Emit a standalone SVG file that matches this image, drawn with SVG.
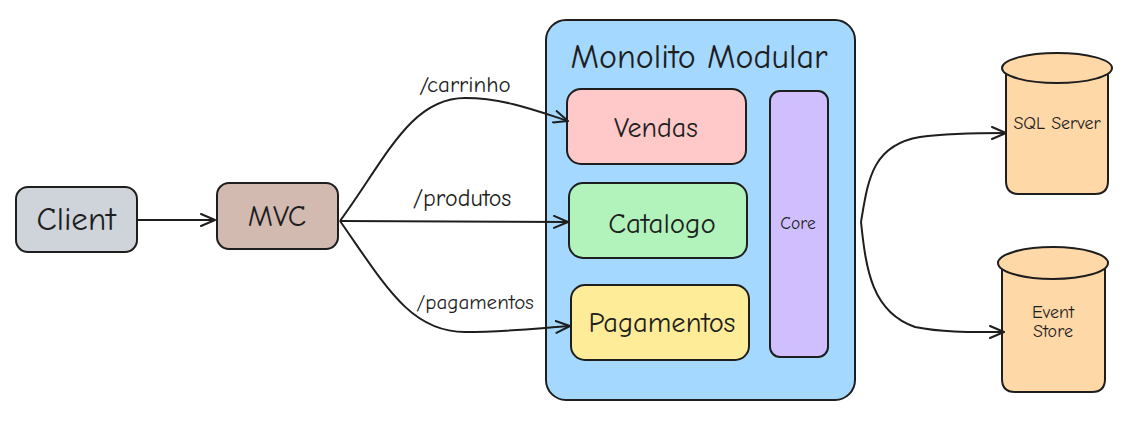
<svg xmlns="http://www.w3.org/2000/svg" width="1135" height="421" viewBox="0 0 1135 421">
<defs>
<marker id="arr" viewBox="0 0 16 14" refX="15" refY="7" markerWidth="16" markerHeight="14" markerUnits="userSpaceOnUse" orient="auto">
<path d="M1,1 L15,7 L1,13" fill="none" stroke="#1e1e1e" stroke-width="2" stroke-linecap="round" stroke-linejoin="round"/>
</marker>
</defs>
<style>
.box{stroke:#1e1e1e;stroke-width:2}
.t{font-family:"Comic Neue","Liberation Sans","DejaVu Sans",sans-serif;fill:#1e1e1e;text-anchor:middle;dominant-baseline:central}
.e{fill:none;stroke:#1e1e1e;stroke-width:2;marker-end:url(#arr)}
</style>
<rect width="1135" height="421" fill="#ffffff"/>
<g id="client">
<rect class="box" x="16" y="187" width="121" height="65" rx="12" fill="#ced4da"/>
<text class="t" x="76" y="219" font-size="33">Client</text>
</g>
<g id="mvc">
<rect class="box" x="217" y="183" width="121" height="66" rx="12" fill="#d2bab0"/>
<text class="t" x="277" y="216" font-size="30">MVC</text>
</g>
<g id="monolito">
<rect class="box" x="546" y="20" width="309" height="380" rx="20" fill="#a5d8ff"/>
<text class="t" x="699" y="57" font-size="34">Monolito Modular</text>
</g>
<g id="vendas">
<rect class="box" x="567" y="89" width="179" height="75" rx="14" fill="#ffc9c9"/>
<text class="t" x="656" y="128" font-size="28">Vendas</text>
</g>
<g id="catalogo">
<rect class="box" x="569" y="183" width="178" height="75" rx="14" fill="#b2f2bb"/>
<text class="t" x="662" y="223" font-size="29">Catalogo</text>
</g>
<g id="pagamentos">
<rect class="box" x="571" y="285" width="178" height="75" rx="14" fill="#ffec99"/>
<text class="t" x="662" y="322" font-size="28.5">Pagamentos</text>
</g>
<g id="core">
<rect class="box" x="770" y="91" width="58" height="266" rx="10" fill="#d0bfff"/>
<text class="t" x="798" y="223" font-size="17.5">Core</text>
</g>
<g id="sqlserver">
<path class="box" d="M1006,68 L1006,181 Q1006,194 1019,194 L1095,194 Q1108,194 1108,181 L1108,68" fill="#ffd8a8"/>
<ellipse class="box" cx="1057" cy="68" rx="55" ry="15" fill="#ffd8a8"/>
<text class="t" x="1057" y="123" font-size="18">SQL Server</text>
</g>
<g id="eventstore">
<path class="box" d="M1002,263 L1002,379 Q1002,392 1015,392 L1092,392 Q1105,392 1105,379 L1105,263" fill="#ffd8a8"/>
<ellipse class="box" cx="1053" cy="263" rx="55" ry="16" fill="#ffd8a8"/>
<text class="t" x="1053" y="312" font-size="18">Event</text>
<text class="t" x="1053" y="331" font-size="18">Store</text>
</g>
<g id="connectors">
<path class="e" d="M138,220 L215,220"/>
<path class="e" d="M340,221 C385,160 410,98 465,98 C505,98 540,112 568,121"/>
<path class="e" d="M340,221 L568,222"/>
<path class="e" d="M340,221 C385,285 410,332 465,332 C505,332 540,328 570,326"/>
<path class="e" d="M861,222 C868,180 872,145 920,137 C950,133 980,133 1006,133"/>
<path class="e" d="M861,222 C866,270 872,312 915,327 C945,333 975,332 1004,332"/>
<text class="t" x="465" y="84" font-size="23">/carrinho</text>
<text class="t" x="462" y="198" font-size="24">/produtos</text>
<text class="t" x="475" y="302" font-size="21">/pagamentos</text>
</g>
</svg>
